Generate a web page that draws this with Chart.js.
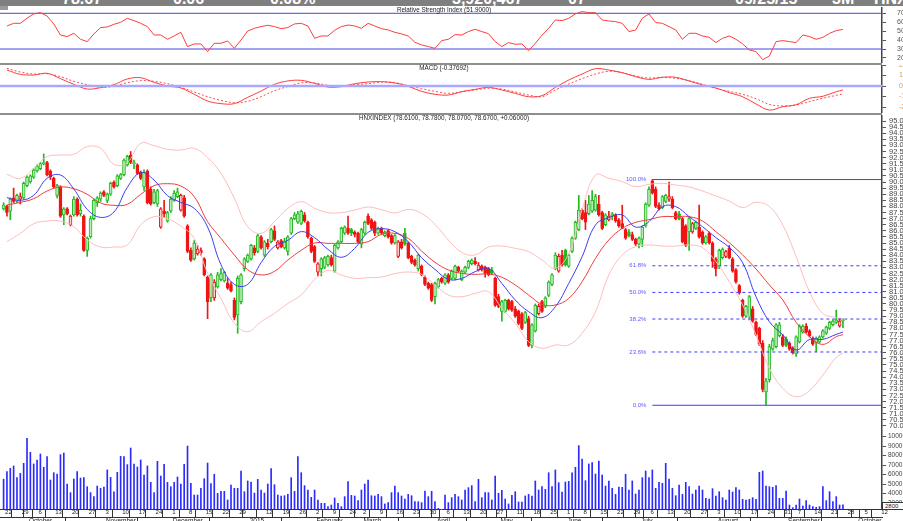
<!DOCTYPE html>
<html>
<head>
<meta charset="utf-8">
<script src="https://cdn.jsdelivr.net/npm/chart.js@4.4.1/dist/chart.umd.min.js"></script>
<style>
  html, body { margin: 0; padding: 0; background: #fff; }
  body { width: 903px; height: 521px; overflow: hidden; position: relative; font-family: 'Liberation Sans', Arial, sans-serif; }
  canvas { position: absolute; left: 0; }
  .hdr { position: absolute; left: 0; top: 0; width: 903px; height: 6px; background: #7f7f7f; overflow: hidden; }
  .hdr span { position: absolute; top: -9px; color: #fff; font-weight: bold; font-size: 16px; line-height: 16px; }
  .sep { position: absolute; left: 0; width: 882px; height: 2px; background: #8e8e8e; }
  .ttl { position: absolute; left: 0; width: 888px; text-align: center; font-size: 6.3px; line-height: 6px; color: #222; white-space: nowrap; }
  .vbox { position: absolute; left: 882px; top: 502px; width: 22px; height: 6px; border: 1px solid #333; background: #fff; font-size: 6px; line-height: 6px; color: #222; padding-left: 2px; }
</style>
</head>
<body>
<div class="hdr">
  <span style="left:62px">78.67</span>
  <span style="left:173px">0.06</span>
  <span style="left:270px">0.08%</span>
  <span style="left:452px">3,920,467</span>
  <span style="left:568px">07</span>
  <span style="left:735px">09/25/15</span>
  <span style="left:832px">3M</span>
  <span style="left:874px">HNX</span>
</div>
<div style="position:absolute;left:0;top:6px;width:8px;height:4px;background:#9a9a9a"></div>

<canvas id="rsiChart" width="930" height="56" style="top:7px"></canvas>
<canvas id="macdChart" width="930" height="48" style="top:65px"></canvas>
<canvas id="priceChart" width="930" height="317" style="top:115px"></canvas>
<canvas id="volChart" width="930" height="97" style="top:432px"></canvas>

<div class="sep" style="top:63px"></div>
<div class="sep" style="top:113px"></div>

<div class="ttl" style="top:7px">Relative Strength Index (51.9000)</div>
<div class="ttl" style="top:65px">MACD (-0.37692)</div>
<div class="ttl" style="top:115px">HNXINDEX (78.6100, 78.7800, 78.0700, 78.6700, +0.06000)</div>
<div class="vbox">2800</div>

<script>
// trading calendar
const HOLIDAYS = ['2015-01-01', '2015-01-02', '2015-02-16', '2015-02-17', '2015-02-18', '2015-02-19', '2015-02-20',
  '2015-02-23', '2015-04-28', '2015-04-29', '2015-04-30', '2015-05-01', '2015-09-02'];
const MONTH_NAMES = ['January', 'February', 'March', 'April', 'May', 'June', 'July', 'August', 'September', 'October', 'November', 'December'];

// daily candles, 22 Sep 2014 .. 25 Sep 2015
const openP = [
  87.8, 88.0, 87.6, 88.7, 88.4, 88.6, 88.7, 89.7, 90.0, 90.4,
  90.9, 91.1, 91.5, 91.6, 90.9, 90.3, 88.9, 89.6, 87.3, 87.8,
  86.5, 87.3, 88.6, 87.4, 87.2, 84.4, 85.5, 87.0, 88.3, 88.6,
  89.2, 88.5, 89.0, 90.0, 89.7, 90.3, 90.6, 91.4, 92.2, 91.5,
  91.4, 90.8, 89.6, 90.9, 89.4, 88.3, 88.2, 86.3, 87.6, 86.8,
  87.6, 88.5, 88.8, 87.7, 88.7, 86.4, 84.4, 83.7, 84.1, 84.4,
  83.7, 82.2, 80.5, 80.5, 81.4, 82.0, 81.9, 81.7, 81.6, 80.3,
  79.1, 80.2, 82.9, 83.5, 83.7, 84.6, 84.3, 85.5, 84.0, 85.0,
  85.1, 86.0, 84.6, 85.2, 84.6, 84.3, 85.8, 87.0, 86.7, 86.6,
  87.3, 86.7, 85.4, 84.7, 82.6, 82.9, 83.0, 83.2, 83.8, 82.7,
  84.6, 85.1, 85.8, 86.2, 86.1, 85.9, 85.8, 84.9, 85.8, 87.2,
  86.9, 86.7, 85.8, 86.2, 85.6, 86.0, 85.6, 85.0, 83.9, 85.1,
  85.8, 85.0, 83.9, 83.6, 82.9, 83.1, 82.2, 81.7, 81.6, 80.6,
  81.4, 82.1, 81.7, 82.4, 82.1, 82.1, 83.0, 82.0, 82.6, 83.0,
  83.3, 83.5, 82.8, 83.1, 83.0, 82.9, 82.8, 82.1, 80.6, 79.4,
  79.4, 80.3, 80.2, 79.6, 79.4, 79.2, 78.5, 78.8, 76.6, 77.8,
  79.2, 80.2, 79.8, 80.7, 81.6, 82.9, 82.7, 84.0, 84.4, 83.1,
  84.3, 85.4, 86.1, 87.7, 87.5, 87.4, 87.6, 87.7, 88.2, 87.5,
  86.5, 86.9, 87.2, 87.3, 86.9, 86.6, 86.1, 85.9, 85.7, 85.3,
  84.9, 85.3, 86.4, 88.1, 90.1, 89.4, 88.1, 87.9, 88.4, 88.6,
  88.6, 87.5, 87.4, 87.0, 86.4, 85.9, 85.9, 86.2, 86.3, 85.9,
  85.0, 85.8, 85.0, 83.7, 83.1, 83.8, 83.9, 84.6, 83.7, 82.8,
  81.5, 80.3, 79.0, 78.9, 79.6, 78.5, 78.0, 76.8, 72.8, 73.8,
  76.3, 76.5, 77.4, 77.3, 77.1, 76.8, 76.4, 75.9, 76.9, 77.7,
  78.2, 77.8, 77.2, 76.8, 76.9, 77.3, 77.6, 78.0, 78.3, 78.5,
  78.2, 78.61
];
const highP = [
  88.3, 88.1, 88.7, 89.5, 89.0, 89.1, 90.0, 90.5, 90.6, 91.1,
  91.4, 91.6, 92.3, 91.7, 91.0, 90.4, 89.8, 89.7, 87.9, 87.9,
  87.3, 88.8, 88.7, 88.2, 87.3, 85.5, 87.2, 88.6, 88.8, 89.2,
  89.3, 89.1, 90.0, 90.1, 90.6, 90.7, 91.9, 92.2, 92.5, 91.8,
  91.5, 90.9, 91.0, 91.0, 89.6, 89.4, 89.4, 87.9, 88.5, 87.6,
  88.8, 89.3, 89.5, 89.0, 88.9, 86.5, 84.6, 85.2, 84.8, 84.6,
  83.8, 82.3, 82.5, 82.0, 82.6, 82.9, 82.7, 82.1, 81.8, 80.5,
  82.3, 82.5, 83.8, 84.1, 84.9, 84.8, 85.7, 85.6, 85.2, 85.3,
  86.2, 86.4, 85.2, 85.3, 85.4, 85.6, 87.1, 87.5, 87.6, 87.7,
  87.5, 86.8, 85.5, 84.8, 83.4, 83.8, 83.9, 84.0, 84.0, 84.9,
  85.2, 86.3, 86.4, 87.2, 86.2, 86.0, 85.9, 86.2, 86.8, 87.4,
  87.0, 86.8, 86.3, 86.3, 86.0, 86.1, 85.7, 85.7, 85.2, 85.3,
  86.2, 85.1, 84.0, 83.7, 84.1, 83.2, 82.3, 81.8, 81.7, 81.8,
  82.1, 82.2, 82.5, 82.5, 82.8, 83.2, 83.1, 82.8, 83.1, 83.6,
  83.7, 83.8, 83.4, 83.2, 83.1, 83.0, 83.0, 82.2, 80.8, 80.3,
  80.4, 80.4, 80.3, 79.8, 79.5, 79.3, 79.4, 79.0, 78.4, 80.0,
  80.0, 80.3, 80.6, 81.9, 82.5, 84.2, 84.1, 84.4, 84.5, 84.1,
  85.5, 86.8, 88.9, 87.8, 88.5, 88.9, 89.3, 89.0, 88.9, 87.6,
  87.4, 87.6, 87.5, 87.4, 87.0, 88.1, 86.2, 86.1, 85.9, 85.4,
  85.5, 86.4, 88.3, 89.6, 90.2, 89.6, 88.3, 88.9, 89.0, 90.0,
  88.8, 87.6, 87.6, 87.1, 86.5, 87.1, 86.7, 86.8, 88.1, 86.0,
  85.6, 85.9, 85.1, 83.8, 84.5, 84.6, 84.4, 84.8, 83.8, 82.9,
  81.6, 80.4, 79.9, 80.7, 79.8, 78.6, 78.1, 77.0, 73.9, 76.7,
  77.2, 78.4, 78.5, 77.5, 77.3, 76.9, 76.5, 77.4, 78.3, 78.3,
  78.4, 77.9, 77.3, 77.3, 77.4, 77.9, 78.2, 78.6, 78.7, 79.5,
  78.8, 78.78
];
const lowP = [
  87.7, 87.2, 86.9, 88.3, 88.3, 88.2, 88.6, 89.6, 89.9, 90.3,
  90.8, 91.0, 91.4, 90.5, 90.2, 89.5, 88.7, 87.1, 86.5, 87.3,
  86.4, 87.2, 87.2, 87.2, 84.3, 83.9, 85.4, 86.9, 88.0, 88.4,
  88.8, 88.3, 88.9, 89.5, 89.6, 90.2, 90.5, 91.3, 91.5, 91.1,
  90.6, 90.2, 89.3, 88.2, 88.1, 88.2, 88.0, 86.2, 87.1, 86.7,
  87.5, 88.4, 88.7, 87.6, 87.1, 84.2, 83.5, 83.6, 84.0, 84.0,
  82.3, 78.8, 80.2, 80.3, 81.3, 81.9, 81.8, 81.2, 81.0, 78.7,
  77.6, 80.0, 82.7, 83.4, 83.6, 84.0, 84.2, 84.5, 83.9, 84.5,
  85.0, 85.2, 84.5, 84.6, 84.5, 84.0, 85.7, 86.9, 86.6, 86.5,
  86.7, 85.4, 84.2, 83.4, 82.3, 82.3, 82.9, 83.1, 83.1, 82.6,
  84.5, 85.0, 85.7, 85.7, 85.6, 85.5, 85.0, 84.6, 85.7, 86.5,
  86.1, 85.6, 85.7, 85.7, 85.5, 85.4, 84.9, 84.9, 83.8, 84.5,
  84.8, 83.7, 83.3, 83.1, 82.7, 82.3, 81.5, 81.2, 80.2, 80.0,
  81.3, 81.7, 81.6, 81.7, 82.0, 82.0, 82.6, 81.9, 82.5, 82.9,
  83.2, 83.2, 82.7, 82.7, 82.2, 82.3, 82.4, 79.8, 79.7, 78.6,
  79.3, 79.5, 79.4, 78.9, 78.3, 77.9, 78.4, 76.5, 76.4, 77.7,
  79.1, 79.3, 79.7, 80.6, 81.5, 82.8, 82.6, 83.1, 83.1, 83.0,
  84.2, 85.3, 86.0, 86.9, 86.1, 87.3, 87.5, 87.6, 87.2, 86.1,
  86.4, 86.8, 86.9, 86.7, 86.3, 86.2, 85.3, 85.5, 85.2, 84.8,
  84.6, 84.7, 86.3, 88.0, 89.0, 87.9, 87.7, 87.8, 88.3, 88.4,
  87.8, 86.9, 86.9, 85.0, 84.7, 84.4, 85.8, 86.1, 85.4, 84.9,
  84.9, 84.9, 83.0, 82.3, 82.9, 83.7, 83.8, 83.7, 82.6, 81.7,
  80.8, 78.9, 78.9, 78.7, 78.5, 77.4, 76.6, 72.8, 71.7, 73.6,
  76.2, 76.4, 77.3, 76.5, 76.5, 76.2, 75.9, 75.7, 76.8, 77.6,
  77.6, 77.3, 76.6, 76.1, 76.8, 77.2, 77.5, 77.9, 78.2, 78.4,
  78.1, 78.07
];
const closeP = [
  88.1, 87.5, 88.6, 88.4, 88.9, 88.8, 89.9, 90.4, 90.5, 91.0,
  91.3, 91.5, 91.6, 90.6, 90.4, 89.6, 89.7, 87.2, 87.8, 87.4,
  87.2, 88.6, 87.3, 87.7, 84.4, 85.4, 87.0, 88.5, 88.7, 89.1,
  88.9, 89.0, 89.9, 89.6, 90.5, 90.6, 91.8, 92.1, 91.6, 91.6,
  90.7, 90.3, 90.8, 88.3, 88.2, 89.2, 89.3, 87.8, 87.4, 87.5,
  88.6, 89.1, 89.2, 88.9, 87.2, 84.3, 83.6, 85.0, 84.5, 84.2,
  82.4, 80.2, 82.4, 81.8, 82.4, 82.5, 82.6, 81.3, 81.1, 78.9,
  82.1, 82.4, 83.7, 84.0, 84.8, 84.2, 85.6, 84.6, 85.1, 84.7,
  86.1, 85.3, 85.1, 84.7, 85.1, 85.5, 87.0, 87.3, 87.4, 87.6,
  86.8, 85.5, 84.3, 83.5, 83.3, 83.7, 83.8, 83.9, 83.2, 84.8,
  85.1, 86.2, 86.3, 85.8, 85.8, 85.7, 85.1, 86.1, 86.7, 86.6,
  86.2, 85.8, 86.2, 85.8, 85.9, 85.5, 85.0, 85.6, 85.1, 84.6,
  84.9, 83.8, 83.4, 83.2, 84.0, 82.4, 81.6, 81.3, 80.3, 81.7,
  82.0, 81.8, 82.4, 81.8, 82.7, 83.1, 82.7, 82.7, 83.0, 83.5,
  83.6, 83.3, 83.2, 82.8, 82.5, 82.4, 82.5, 79.9, 79.8, 80.2,
  80.3, 79.6, 79.5, 79.0, 78.4, 78.0, 79.3, 76.6, 78.3, 79.9,
  79.8, 79.4, 80.5, 81.8, 82.4, 84.0, 83.9, 83.2, 83.2, 84.0,
  85.4, 86.7, 87.7, 87.0, 86.7, 88.2, 88.5, 88.8, 87.3, 86.2,
  87.3, 87.2, 87.4, 86.8, 86.4, 86.2, 85.4, 85.6, 85.3, 84.9,
  85.4, 86.3, 88.2, 89.4, 89.1, 88.0, 87.8, 88.8, 88.9, 88.8,
  87.9, 87.0, 87.0, 85.1, 84.8, 87.0, 86.6, 86.7, 85.5, 85.0,
  85.5, 85.0, 83.5, 82.9, 84.4, 84.5, 84.3, 83.8, 82.7, 81.8,
  80.9, 79.0, 79.8, 80.6, 78.6, 77.5, 76.7, 73.0, 73.7, 76.5,
  77.0, 78.3, 78.3, 76.6, 76.6, 76.3, 76.0, 77.3, 78.2, 78.2,
  77.7, 77.4, 76.7, 77.2, 77.3, 77.8, 78.1, 78.5, 78.6, 78.7,
  78.61, 78.67
];
const volume = [
  5500, 6300, 6650, 6900, 5670, 6120, 7180, 9810, 8330, 7110,
  7530, 8160, 6760, 7880, 5420, 6190, 6050, 8090, 8260, 5000,
  4090, 5530, 6300, 5630, 5670, 4720, 4090, 3670, 4790, 4550,
  4690, 6480, 5700, 4190, 6230, 7910, 7880, 7040, 8790, 7110,
  6790, 7530, 5950, 6900, 5180, 4090, 7390, 5840, 7070, 5180,
  4720, 5180, 5740, 5000, 7070, 9000, 5070, 3840, 3840, 4550,
  5560, 7210, 5040, 6020, 4020, 4230, 4230, 3320, 4900, 4550,
  4550, 6370, 4190, 5320, 5210, 4050, 5490, 4370, 4050, 5000,
  6620, 4930, 3840, 3740, 3770, 3910, 5670, 4230, 7880, 6190,
  4830, 4370, 3600, 4370, 3320, 2970, 2970, 2620, 2790, 3530,
  2970, 2620, 3670, 5250, 3810, 3740, 3250, 4370, 5000, 5420,
  3770, 3740, 3910, 3670, 2900, 3040, 4090, 4790, 4090, 3740,
  3420, 3910, 3770, 3140, 3140, 3040, 4260, 3670, 4230, 3140,
  2440, 2340, 3840, 3040, 3560, 3910, 3670, 3320, 4370, 4620,
  4830, 3140, 5490, 3560, 4090, 4090, 3320, 5840, 4020, 4330,
  3420, 2900, 3810, 4190, 3110, 3110, 3740, 3910, 3740, 5320,
  4370, 4720, 4440, 6190, 4720, 6480, 5140, 4160, 5210, 5280,
  6190, 6760, 9040, 7630, 5350, 7110, 7250, 6050, 7420, 5950,
  4790, 5320, 4550, 3910, 4690, 4650, 6020, 4370, 5320, 3950,
  4370, 5670, 6370, 5670, 6480, 4550, 5180, 5070, 7180, 5530,
  4550, 3770, 4900, 3910, 5180, 4720, 3950, 4370, 4790, 4370,
  3490, 3420, 4510, 3740, 4190, 3560, 3320, 4370, 4160, 4620,
  4370, 3390, 3320, 3390, 3560, 3390, 6230, 6370, 4790, 4720,
  4650, 4830, 3490, 3490, 4260, 2790, 2510, 2790, 3420, 2690,
  3250, 2790, 2620, 2550, 2620, 4720, 3250, 4190, 3140, 3670,
  2790, 2800
];

// indicator readings, one every 4 sessions (last one on the final session)
const lineIdx = [];
for (let i = 1; i < 250; i += 4) lineIdx.push(i);
lineIdx.push(251);
const maFast = [
  88.72, 88.50, 88.91, 90.30, 90.57, 89.43, 87.76, 87.10, 87.54, 89.56, 90.77, 90.16, 88.88, 88.33, 87.84, 86.31,
  83.22, 81.61, 81.61, 83.39, 84.73, 85.22, 85.93, 85.44, 84.48, 83.83, 84.56, 85.87, 86.17, 85.93, 85.11, 83.80,
  82.84, 82.02, 82.10, 82.65, 82.92, 81.69, 80.33, 79.37, 78.88, 79.78, 81.69, 83.88, 86.48, 87.08, 87.30, 86.31,
  86.75, 87.98, 87.98, 87.16, 86.34, 85.44, 84.64, 83.39, 80.60, 78.55, 77.46, 76.23, 77.10, 77.10, 77.51, 77.70
];
const maSlow = [
  88.11, 88.33, 88.63, 89.26, 89.59, 89.45, 88.99, 88.28, 88.09, 88.17, 88.99, 89.70, 89.86, 89.67, 88.80, 86.75,
  85.38, 84.02, 82.81, 82.38, 82.68, 83.60, 84.40, 85.00, 84.97, 84.97, 84.97, 85.11, 85.71, 85.79, 85.38, 84.34,
  83.42, 82.79, 82.51, 82.43, 82.46, 82.19, 81.56, 80.74, 79.97, 79.92, 80.46, 81.83, 83.74, 85.25, 86.20, 86.69,
  86.91, 87.16, 87.16, 87.16, 86.80, 85.93, 85.03, 84.02, 82.87, 81.56, 80.33, 78.50, 77.32, 76.69, 77.32, 77.49
];
const bbUpper = [
  90.63, 90.30, 91.12, 92.08, 92.21, 92.27, 92.90, 92.76, 91.45, 91.60, 93.17, 92.98, 92.68, 92.62, 92.76, 92.00,
  90.71, 88.66, 86.34, 85.79, 86.75, 87.84, 88.39, 87.84, 87.49, 87.49, 87.70, 87.95, 87.73, 87.46, 87.76, 87.43,
  86.53, 85.25, 84.23, 84.02, 84.67, 84.75, 84.56, 84.29, 83.61, 82.92, 84.15, 87.76, 90.57, 90.30, 90.03, 89.62,
  89.81, 89.89, 89.75, 89.59, 89.26, 88.85, 88.44, 87.90, 88.33, 87.98, 86.48, 83.88, 81.01, 79.23, 78.88, 78.77
];
const bbLower = [
  85.11, 85.79, 86.58, 86.80, 86.80, 86.34, 85.25, 84.67, 84.67, 84.84, 86.48, 87.16, 86.97, 86.39, 85.38, 82.51,
  80.46, 78.42, 77.73, 78.55, 79.23, 80.05, 80.74, 82.00, 82.76, 82.38, 82.10, 82.16, 82.21, 82.49, 82.62, 82.43,
  81.56, 80.74, 80.60, 80.87, 81.01, 79.64, 78.42, 76.91, 76.37, 76.64, 76.64, 77.60, 79.37, 82.38, 84.02, 84.70,
  84.84, 84.75, 84.75, 84.84, 84.62, 83.47, 81.83, 79.92, 77.46, 74.73, 73.09, 72.40, 72.90, 74.18, 75.63, 75.96
];
const macdLine = [
  1.52, 1.11, 1.05, 1.21, 0.70, 0.16, -0.29, -0.16, 0.13, 0.67, 0.79, 0.35, 0.00, -0.19, -0.79, -1.43,
  -1.68, -1.68, -1.08, -0.48, 0.16, 0.48, 0.54, 0.25, -0.10, -0.06, 0.22, 0.38, 0.41, 0.29, -0.03, -0.51,
  -0.79, -0.86, -0.54, -0.32, -0.13, -0.38, -0.70, -1.02, -0.92, -0.13, 0.57, 1.14, 1.65, 1.52, 1.27, 0.89,
  0.63, 0.83, 0.83, 0.48, 0.10, -0.19, -0.63, -1.02, -1.71, -2.29, -1.97, -1.78, -1.17, -0.98, -0.54, -0.38
];
const macdSignal = [
  1.68, 1.33, 1.14, 1.17, 0.89, 0.44, 0.13, -0.13, -0.03, 0.32, 0.51, 0.44, 0.22, -0.13, -0.57, -1.02,
  -1.37, -1.59, -1.46, -1.02, -0.45, -0.05, 0.30, 0.29, 0.06, 0.03, 0.13, 0.22, 0.38, 0.32, 0.03, -0.25,
  -0.51, -0.70, -0.54, -0.38, -0.22, -0.29, -0.57, -0.86, -1.02, -0.38, 0.19, 0.70, 1.14, 1.40, 1.27, 0.95,
  0.76, 0.83, 0.73, 0.51, 0.16, -0.22, -0.51, -0.79, -1.21, -1.75, -1.90, -1.81, -1.49, -1.17, -0.89, -0.76
];

// RSI readings, one every 2 sessions
const rsiIdx = [];
for (let i = 1; i <= 251; i += 2) rsiIdx.push(i);
const rsiVals = [
  55.8, 58.8, 58.8, 64.4, 69.3, 70.7, 67.0, 58.1, 45.7, 43.9, 47.6, 40.9, 38.3, 46.9, 54.0, 54.7,
  57.7, 59.9, 64.4, 61.8, 58.8, 55.1, 45.7, 45.7, 40.9, 44.6, 48.7, 32.7, 35.7, 35.7, 27.1, 36.4,
  36.4, 39.0, 30.8, 40.1, 50.2, 53.2, 55.1, 56.6, 55.1, 52.8, 54.0, 58.1, 58.8, 55.8, 42.0, 44.6,
  44.6, 51.0, 55.1, 56.9, 55.8, 53.2, 58.8, 55.8, 52.8, 51.3, 48.7, 46.9, 44.6, 37.5, 34.6, 32.7,
  30.8, 39.4, 40.9, 46.1, 45.7, 49.5, 52.1, 49.5, 47.2, 38.3, 32.7, 37.2, 35.3, 35.7, 28.2, 36.4,
  45.4, 53.2, 62.5, 61.8, 64.4, 69.3, 71.9, 70.7, 70.7, 62.5, 61.4, 60.7, 58.8, 49.5, 51.3, 64.4,
  69.3, 59.6, 58.8, 55.1, 51.3, 40.9, 47.6, 47.6, 44.6, 43.1, 37.2, 42.0, 44.6, 40.9, 35.7, 29.0,
  27.1, 18.0, 22.2, 38.3, 39.4, 38.3, 37.2, 45.7, 43.9, 40.9, 43.1, 47.6, 50.6, 51.9
];

const FIB_FROM = 194;
const FIB_RATIOS = [0, 0.236, 0.382, 0.5, 0.618, 1];

// ---- layout constants ----
const X_MIN = -3.6 / 3.344;
const X_MAX = X_MIN + 882 / 3.344;
const AXIS_W = 48;

Chart.defaults.font.family = "'Liberation Sans', Arial, sans-serif";
Chart.defaults.font.size = 6;
Chart.defaults.color = '#333';

// dates and axis ticks
const dates = [];
const cur = new Date(Date.UTC(2014, 8, 22));
while (dates.length < 266) {
  const iso = cur.toISOString().slice(0, 10);
  const wd = cur.getUTCDay();
  if (wd !== 0 && wd !== 6 && !HOLIDAYS.includes(iso)) dates.push(new Date(cur));
  cur.setUTCDate(cur.getUTCDate() + 1);
}
const weekTicks = [], weekLabels = {}, monthTicks = [], monthLabels = {};
let lastLabel = -10;
dates.forEach((dt, i) => {
  const prev = dates[i - 1];
  const newWeek = !prev || dt.getUTCDay() <= prev.getUTCDay() || dt - prev > 6 * 864e5;
  const newMonth = prev && dt.getUTCMonth() !== prev.getUTCMonth();
  if (newMonth) {
    monthTicks.push(i);
    monthLabels[i] = dt.getUTCMonth() === 0 ? String(dt.getUTCFullYear()) : MONTH_NAMES[dt.getUTCMonth()];
  }
  if (newWeek || newMonth) weekTicks.push(i);
  if (newWeek && i - lastLabel > 3) {
    weekLabels[i] = String(dt.getUTCDate());
    lastLabel = i;
  }
});

const idx = closeP.map((_, i) => i);
const GREEN = '#22b822', RED = '#f01414';
const candleColor = closeP.map((c, i) => c >= (i ? closeP[i - 1] : openP[i]) ? GREEN : RED);
const bodyFill = closeP.map((c, i) => c < openP[i] ? candleColor[i] : (candleColor[i] === GREEN ? '#b8eeb8' : '#ffcccc'));

function xy(xs, ys) {
  return xs.map((x, k) => ({ x: x, y: ys[k] }));
}

function hline(value, color, width, dash, from) {
  return {
    type: 'line',
    data: [{ x: from === undefined ? X_MIN - 1 : from, y: value }, { x: X_MAX + 1, y: value }],
    borderColor: color,
    borderWidth: width,
    borderDash: dash || [],
    pointRadius: 0,
    order: 0
  };
}

function rightAxis(min, max, ticks, fmt, color, pad, size) {
  return {
    position: 'right',
    min: min,
    max: max,
    beginAtZero: false,
    afterBuildTicks: s => { s.ticks = ticks.map(v => ({ value: v })); },
    afterFit: s => { s.width = AXIS_W; s.paddingTop = 0; s.paddingBottom = 0; },
    grid: { drawOnChartArea: false, drawTicks: true, tickLength: 4, color: '#555' },
    border: { display: true, color: '#444', width: 1.5 },
    ticks: { autoSkip: false, padding: pad, color: color, callback: fmt, font: { size: size } }
  };
}

function baseOptions(yAxis) {
  return {
    responsive: false,
    animation: false,
    devicePixelRatio: 1,
    events: [],
    layout: { padding: 0, autoPadding: false },
    plugins: { legend: { display: false }, tooltip: { enabled: false } },
    scales: {
      x: { type: 'linear', min: X_MIN, max: X_MAX, offset: false, display: false },
      y: yAxis
    }
  };
}

// RSI panel
new Chart(document.getElementById('rsiChart'), {
  type: 'line',
  data: {
    datasets: [
      { data: xy(rsiIdx, rsiVals), borderColor: '#ff3c3c', borderWidth: 1, pointRadius: 0, tension: 0, order: 0 },
      hline(70, '#4646e6', 1),
      hline(30, '#4646e6', 1)
    ]
  },
  options: baseOptions(rightAxis(14.34, 77.05, [20, 30, 40, 50, 60, 70], v => v.toFixed(2), '#555', 11, 7))
});

// MACD panel
new Chart(document.getElementById('macdChart'), {
  type: 'line',
  data: {
    datasets: [
      hline(0, '#a8a8ff', 2.5),
      { data: xy(lineIdx, macdLine), borderColor: '#ff3c3c', borderWidth: 1, pointRadius: 0, tension: 0.35, order: 0 },
      { data: xy(lineIdx, macdSignal), borderColor: '#ff4a4a', borderWidth: 1, borderDash: [2, 2], pointRadius: 0, tension: 0.35, order: 0 }
    ]
  },
  options: baseOptions(rightAxis(-2.571, 2.0, [-2, -1, 0, 1, 2], v => v.toFixed(2), '#d59a5a', 13, 7))
});

// price panel
const fibHigh = Math.max(...highP.slice(FIB_FROM));
const fibLow = Math.min(...lowP.slice(FIB_FROM));
const fibLevels = FIB_RATIOS.map(r => ({
  value: fibLow + r * (fibHigh - fibLow),
  text: (r * 100).toFixed(1) + '%',
  solid: r === 0 || r === 1
}));

const fibLabelPlugin = {
  id: 'fibLabels',
  afterDatasetsDraw(chart) {
    const { ctx, scales } = chart;
    ctx.save();
    ctx.font = "6px 'Liberation Sans', Arial, sans-serif";
    ctx.fillStyle = '#5a5aff';
    ctx.textAlign = 'right';
    ctx.textBaseline = 'middle';
    const px = scales.x.getPixelForValue(FIB_FROM) - 6;
    fibLevels.forEach(l => ctx.fillText(l.text, px, scales.y.getPixelForValue(l.value)));
    ctx.restore();
  }
};

const priceTicks = [];
for (let v = 70; v <= 95; v += 0.5) priceTicks.push(v);

new Chart(document.getElementById('priceChart'), {
  type: 'bar',
  data: {
    datasets: [
      {
        type: 'bar', data: idx.map(i => ({ x: i, y: [lowP[i], highP[i]] })),
        backgroundColor: candleColor, barThickness: 1, grouped: false, order: 6
      },
      {
        type: 'bar', data: idx.map(i => ({ x: i, y: [openP[i], closeP[i]] })),
        backgroundColor: bodyFill, borderColor: candleColor, borderWidth: 1, borderSkipped: false,
        barThickness: 3, minBarLength: 1, grouped: false, order: 5
      },
      { type: 'line', data: xy(lineIdx, bbUpper), borderColor: '#ffbcbc', borderWidth: 1, pointRadius: 0, tension: 0.4, order: 4 },
      { type: 'line', data: xy(lineIdx, bbLower), borderColor: '#ffbcbc', borderWidth: 1, pointRadius: 0, tension: 0.4, order: 4 },
      { type: 'line', data: xy(lineIdx, maSlow), borderColor: '#f03c3c', borderWidth: 1, pointRadius: 0, tension: 0.4, order: 3 },
      { type: 'line', data: xy(lineIdx, maFast), borderColor: '#3c3cf0', borderWidth: 1, pointRadius: 0, tension: 0.4, order: 2 },
      ...fibLevels.map(l => hline(l.value, '#3c3cff', 1, l.solid ? [] : [3, 3], FIB_FROM))
    ]
  },
  options: baseOptions(rightAxis(69.508, 95.492, priceTicks, v => v.toFixed(4), '#444', 3, 7.5)),
  plugins: [fibLabelPlugin]
});

// volume panel with week / month axis
const volOptions = baseOptions(rightAxis(2370, 10475, [3000, 4000, 5000, 6000, 7000, 8000, 9000, 10000], v => String(v), '#444', 2, 6.5));
volOptions.scales.x = {
  type: 'linear', min: X_MIN, max: X_MAX, offset: false, position: 'bottom', weight: 0,
  afterBuildTicks: s => { s.ticks = weekTicks.map(v => ({ value: v })); },
  afterFit: s => { s.height = 8; s.paddingLeft = 0; s.paddingRight = 0; },
  grid: { drawOnChartArea: false, drawTicks: true, tickLength: 8, color: '#333' },
  border: { display: true, color: '#333' },
  ticks: { autoSkip: false, maxRotation: 0, minRotation: 0, align: 'start', padding: -8, labelOffset: 1.5, color: '#222', callback: v => weekLabels[v] || '' }
};
volOptions.scales.xm = {
  type: 'linear', min: X_MIN, max: X_MAX, offset: false, position: 'bottom', weight: 1,
  afterBuildTicks: s => { s.ticks = monthTicks.map(v => ({ value: v })); },
  afterFit: s => { s.height = 12; s.paddingLeft = 0; s.paddingRight = 0; },
  grid: { drawOnChartArea: false, drawTicks: true, tickLength: 12, color: '#333' },
  border: { display: true, color: '#333' },
  ticks: { autoSkip: false, maxRotation: 0, minRotation: 0, align: 'start', padding: -12, labelOffset: 2, color: '#222', font: { size: 6.5 }, callback: v => monthLabels[v] || '' }
};

new Chart(document.getElementById('volChart'), {
  type: 'bar',
  data: {
    datasets: [{
      data: idx.map(i => ({ x: i, y: volume[i] })),
      backgroundColor: '#2b2bff', barThickness: 1, grouped: false
    }]
  },
  options: volOptions
});
</script>
</body>
</html>
